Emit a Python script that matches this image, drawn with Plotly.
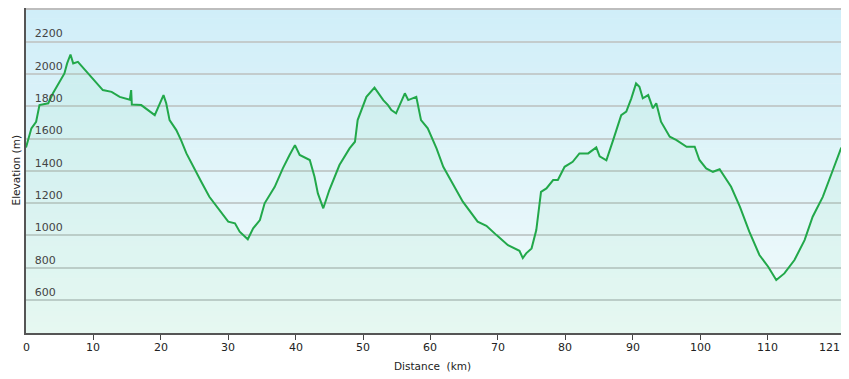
import plotly.graph_objects as go

distance_km = [0, 0.8, 1.5, 2.0, 3.3, 4.0, 5.7, 6.1, 6.6, 7.0, 7.7, 9.0, 10.2, 11.4, 12.7, 13.9,
               15.4, 15.6, 15.7, 17.1, 19.1, 19.8, 20.4, 20.8, 21.3, 22.3, 23.0, 23.8, 24.8, 26.0,
               27.2, 28.7, 30.0, 31.0, 31.7, 32.9, 33.7, 34.7, 35.4, 36.9, 38.1, 39.1, 39.9, 40.6,
               42.1, 42.8, 43.3, 44.1, 45.0, 46.5, 48.0, 48.8, 49.2, 50.5, 51.7, 53.0, 53.7, 54.2,
               54.9, 56.2, 56.7, 57.9, 58.6, 59.6, 60.9, 61.9, 63.3, 64.8, 67.0, 68.3, 69.8, 71.5,
               73.2, 73.7, 74.2, 75.0, 75.7, 76.4, 77.2, 78.2, 78.9, 79.9, 81.1, 82.1, 83.4, 84.6,
               85.1, 86.1, 87.1, 88.3, 89.05, 89.8, 90.5, 91.0, 91.5, 92.3, 93.0, 93.5, 94.2, 95.5,
               96.5, 98.0, 99.2, 99.9, 100.9, 101.9, 102.9, 103.9, 104.6, 105.9, 107.3, 108.8,
               110.1, 111.3, 112.5, 114.0, 115.5, 116.7, 118.2, 119.7, 120.9, 121.2]
elevation_m = [1545, 1663, 1704, 1807, 1818, 1880, 2003, 2065, 2120, 2065, 2075, 2013, 1962, 1900,
               1889, 1858, 1840, 1900, 1810, 1807, 1745, 1807, 1869, 1818, 1714, 1652, 1590, 1508,
               1425, 1332, 1239, 1157, 1085, 1075, 1023, 976, 1044, 1095, 1199, 1301, 1415, 1498,
               1559, 1498, 1467, 1363, 1260, 1168, 1281, 1436, 1539, 1580, 1714, 1858, 1915, 1838,
               1807, 1776, 1756, 1880, 1838, 1858, 1714, 1663, 1539, 1425, 1322, 1209, 1085, 1060,
               1002, 940, 905, 860, 889, 920, 1033, 1270, 1291, 1343, 1343, 1425, 1456, 1508, 1508,
               1545, 1490, 1465, 1590, 1745, 1766, 1849, 1941, 1920, 1849, 1869, 1787, 1818, 1704,
               1611, 1590, 1549, 1549, 1467, 1415, 1394, 1410, 1343, 1301, 1178, 1023, 879, 806,
               724, 765, 848, 971, 1116, 1239, 1405, 1539, 1548]

x_ticks = [0, 10, 20, 30, 40, 50, 60, 70, 80, 90, 100, 110]
x_tick_labels = ["0", "10", "20", "30", "40", "50", "60", "70", "80", "90", "100", "110"]
x_end_label = "121"
y_ticks = [600, 800, 1000, 1200, 1400, 1600, 1800, 2000, 2200]
x_title = "Distance  (km)"
y_title = "Elevation (m)"

X_MAX = distance_km[-1]
FONT = "DejaVu Sans"
TXT = dict(family=FONT, size=11, color="#222")

# the page body adds an 8px offset, so the figure is 8px smaller than the window
FIG_W, FIG_H = 841, 371
M_L, M_R, M_T, M_B = 18, 6, 0, 46
plot_w, plot_h = FIG_W - M_L - M_R, FIG_H - M_T - M_B

fig = go.Figure()
fig.add_trace(go.Scatter(
    x=distance_km, y=elevation_m, mode="lines",
    line=dict(color="#22a84a", width=2),
    fill="tozeroy", fillcolor="rgba(110,225,150,0.09)",
    hoverinfo="x+y", showlegend=False,
))

# background vertical gradient (strips below the gridlines)
def lerp(c1, c2, t):
    return "rgb(%d,%d,%d)" % tuple(round(a + (b - a) * t) for a, b in zip(c1, c2))

bottom_c = (242, 251, 250)
top_c = (208, 238, 249)
N = 60
shapes = []
for i in range(N):
    shapes.append(dict(type="rect", xref="paper", yref="paper", x0=0, x1=1,
                       y0=i / N, y1=(i + 1) / N + 0.002, line=dict(width=0),
                       fillcolor=lerp(bottom_c, top_c, (i + 0.5) / N), layer="below"))
# light top / right border
shapes.append(dict(type="line", xref="paper", yref="paper", x0=0, x1=1,
                   y0=1 - 1 / plot_h, y1=1 - 1 / plot_h,
                   line=dict(color="#bdbdbd", width=2), layer="above"))
shapes.append(dict(type="line", xref="paper", yref="paper", x0=1, x1=1, y0=0, y1=1,
                   line=dict(color="#bdbdbd", width=2), layer="above"))

annotations = []
for v, t in zip(x_ticks, x_tick_labels):
    annotations.append(dict(text=t, x=v, y=0, xref="x", yref="paper", xanchor="center",
                            yanchor="top", yshift=-6, showarrow=False, font=TXT))
annotations.append(dict(text=x_end_label, x=X_MAX, y=0, xref="x", yref="paper",
                        xanchor="right", yanchor="top", xshift=-1, yshift=-6,
                        showarrow=False, font=TXT))
annotations.append(dict(text=x_title, x=(432 - 26) / plot_w, y=-(366 - 333) / plot_h,
                        xref="paper", yref="paper", xanchor="center", yanchor="middle",
                        showarrow=False, font=dict(family=FONT, size=10.5, color="#222")))
annotations.append(dict(text=y_title, x=0, y=0.5, xref="paper", yref="paper",
                        xanchor="center", yanchor="middle", xshift=-11, textangle=-90,
                        showarrow=False, font=dict(family=FONT, size=10.5, color="#222")))

fig.update_layout(
    width=FIG_W, height=FIG_H,
    margin=dict(l=M_L, r=M_R, t=M_T, b=M_B, autoexpand=False),
    paper_bgcolor="white", plot_bgcolor="rgba(0,0,0,0)",
    font=TXT,
    shapes=shapes,
    annotations=annotations,
    xaxis=dict(range=[0, X_MAX], tickvals=x_ticks + [X_MAX], showticklabels=False,
               ticks="outside", ticklen=5, tickcolor="#444", tickwidth=1,
               showgrid=False, zeroline=False, showline=True, linecolor="#555", linewidth=2,
               automargin=False, fixedrange=True),
    yaxis=dict(range=[396, 2408], tickvals=y_ticks, ticks="",
               ticklabelposition="inside", ticklabelstandoff=8, ticklabelshift=-8,
               showgrid=True, gridcolor="#c3cccd", gridwidth=1.5,
               zeroline=False, showline=True, linecolor="#555", linewidth=2,
               automargin=False, fixedrange=True),
)

fig.write_html("out.html")
